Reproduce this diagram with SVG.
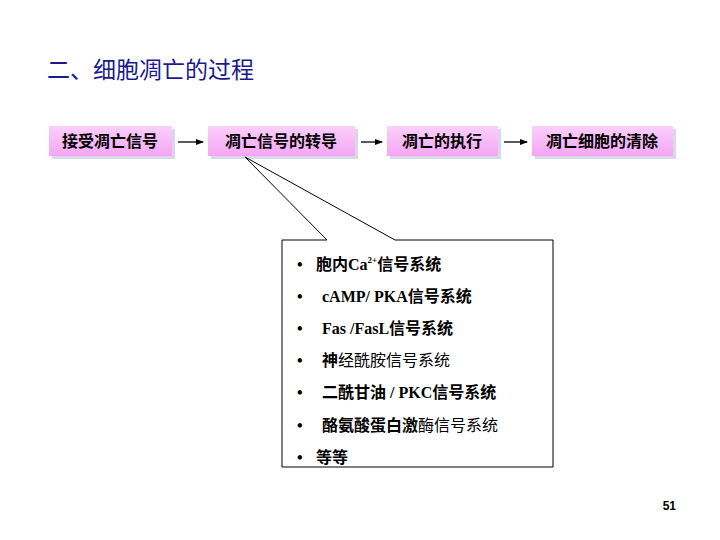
<svg xmlns="http://www.w3.org/2000/svg" width="720" height="540" viewBox="0 0 720 540">
<defs>
<linearGradient id="pk" x1="0" y1="0" x2="0" y2="1"><stop offset="0" stop-color="#fbd0fb"/><stop offset="1" stop-color="#f4a6f4"/></linearGradient>
<marker id="ah" markerWidth="8" markerHeight="8" refX="7" refY="4" orient="auto" markerUnits="userSpaceOnUse"><path d="M0,1 L8,4 L0,7 Z" fill="#000"/></marker>
<style>
.box{fill:url(#pk);}
.sh{fill:#d8d8e8;}
.t{font-family:"Noto Sans CJK SC","Liberation Sans",sans-serif;font-size:16px;font-weight:bold;text-anchor:middle;fill:#000;}
.li{font-family:"Liberation Serif","Noto Sans CJK SC",serif;font-size:16px;font-weight:bold;fill:#000;}
.ln{stroke:#000;stroke-width:1.3;fill:none;}
</style>
</defs>
<rect width="720" height="540" fill="#fff"/>
<text x="47" y="78" font-family="Noto Sans CJK SC,sans-serif" font-size="23" fill="#1a1a8c">二、细胞凋亡的过程</text>
<g id="connectors">
<line class="ln" x1="178" y1="142" x2="203" y2="142" marker-end="url(#ah)"/>
<line class="ln" x1="361" y1="142" x2="382" y2="142" marker-end="url(#ah)"/>
<line class="ln" x1="504" y1="142" x2="527" y2="142" marker-end="url(#ah)"/>
</g>
<g id="n1"><rect class="sh" x="52" y="129" width="123" height="30"/><rect class="box" x="49" y="126" width="123" height="30"/><text class="t" x="110" y="147">接受凋亡信号</text></g>
<g id="n2"><rect class="sh" x="211" y="129" width="147" height="30"/><rect class="box" x="208" y="126" width="147" height="30"/><text class="t" x="281" y="147">凋亡信号的转导</text></g>
<g id="n3"><rect class="sh" x="390" y="129" width="111" height="30"/><rect class="box" x="387" y="126" width="111" height="30"/><text class="t" x="442" y="147">凋亡的执行</text></g>
<g id="n4"><rect class="sh" x="535" y="129" width="141" height="30"/><rect class="box" x="532" y="126" width="141" height="30"/><text class="t" x="602" y="147">凋亡细胞的清除</text></g>
<g id="callout">
<path d="M327,240 L245,157 L395,240 L553,240 L553,467 L282,467 L282,240 Z" fill="#fff" stroke="#000" stroke-width="1"/>
<g class="li">
<text x="297" y="270">•</text><text x="316" y="270">胞内Ca<tspan font-size="9" dy="-7">2+</tspan><tspan dy="7">信号系统</tspan></text>
<text x="297" y="302">•</text><text x="322" y="302">cAMP/ PKA信号系统</text>
<text x="297" y="334">•</text><text x="322" y="334">Fas /FasL信号系统</text>
<text x="297" y="366">•</text><text x="322" y="366">神<tspan font-weight="normal">经酰胺信号系统</tspan></text>
<text x="297" y="398">•</text><text x="322" y="398">二酰甘油 / PKC信号系统</text>
<text x="297" y="431">•</text><text x="322" y="431">酪氨酸蛋白激<tspan font-weight="normal">酶信号系统</tspan></text>
<text x="297" y="463">•</text><text x="316" y="463">等等</text>
</g>
</g>
<text x="676" y="510" font-family="Liberation Sans,sans-serif" font-size="12" font-weight="bold" text-anchor="end">51</text>
</svg>
